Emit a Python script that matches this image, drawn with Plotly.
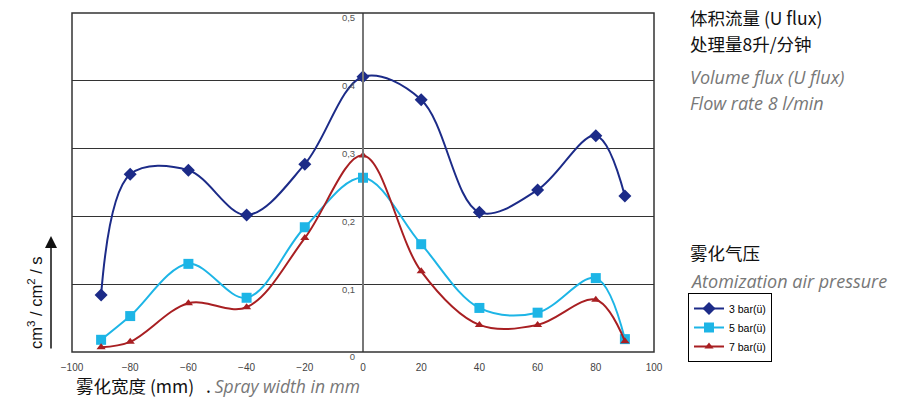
import plotly.graph_objects as go

x_mm = [-90, -80, -60, -40, -20, 0, 20, 40, 60, 80, 90]
bar3 = [0.084, 0.262, 0.268, 0.202, 0.277, 0.406, 0.372, 0.206, 0.239, 0.319, 0.230]
bar5 = [0.018, 0.053, 0.130, 0.080, 0.184, 0.257, 0.159, 0.065, 0.058, 0.109, 0.019]
bar7 = [0.007, 0.015, 0.072, 0.066, 0.168, 0.290, 0.119, 0.040, 0.040, 0.077, 0.016]
series_names = ["3 bar(ü)", "5 bar(ü)", "7 bar(ü)"]
x_ticks = [-100, -80, -60, -40, -20, 0, 20, 40, 60, 80, 100]
y_ticks = [0, 0.1, 0.2, 0.3, 0.4, 0.5]
y_ticklabels = ["0", "0,1", "0,2", "0,3", "0,4", "0,5"]

W, H = 897, 399
L, R, T, B = 72, 654, 13, 352


def px(x):
    return (x - L) / (R - L)


def py(y):
    return (B - y) / (B - T)


fig = go.Figure()
styles = [
    ("#1c2b88", "diamond", 10),
    ("#1db5e6", "square", 10),
    ("#a81f22", "triangle-up", 8),
]
for name, vals, (col, sym, sz) in zip(series_names, [bar3, bar5, bar7], styles):
    fig.add_trace(go.Scatter(
        x=x_mm, y=vals, name=name, mode="lines+markers",
        line=dict(color=col, width=2, shape="spline", smoothing=1.0),
        marker=dict(symbol=sym, size=sz, color=col),
    ))

fig.update_layout(
    width=W, height=H,
    margin=dict(l=L, r=W - R, t=T, b=H - B),
    paper_bgcolor="white", plot_bgcolor="white",
    font=dict(family="Liberation Sans, Arial, sans-serif", color="#444"),
    xaxis=dict(range=[-100, 100], tickvals=x_ticks, showgrid=False, zeroline=False,
               showline=False, ticks="", tickfont=dict(size=10, color="#444"),
               ticklabelstandoff=8),
    yaxis=dict(range=[0, 0.5], tickvals=y_ticks, ticktext=y_ticklabels,
               anchor="free", position=0.5, showline=True, linecolor="#777", linewidth=2,
               showgrid=True, gridcolor="#333", gridwidth=1, zeroline=False,
               ticks="", tickfont=dict(size=9.5, color="#555"), ticklabelshift=5,
               ticklabelstandoff=5),
    showlegend=True,
    legend=dict(x=px(688), y=py(293), xanchor="left", yanchor="top",
                bordercolor="#000", borderwidth=1, bgcolor="white",
                font=dict(size=10.5, color="#000", family="Liberation Sans, Arial"),
                tracegroupgap=0, itemwidth=30),
)

# frame
fig.add_shape(type="rect", xref="paper", yref="paper", x0=0, x1=1, y0=0, y1=1,
              line=dict(color="#333", width=1.5), layer="above")

cjk = "Noto Sans CJK SC"
ann = [
    (688, 17, "体积流量 (U flux)", 17.5, "#111", cjk),
    (688, 43, "处理量8升/分钟", 17.5, "#111", cjk),
    (688, 77, "<i>Volume flux (U flux)</i>", 18, "#777", "Open Sans"),
    (688, 103, "<i>Flow rate 8 l/min</i>", 18, "#777", "Open Sans"),
    (688, 252, "雾化气压", 17.5, "#111", cjk),
    (688, 281, "<i>Atomization air pressure</i>", 18, "#777", "Open Sans"),
]
for xp, yp, txt, sz, col, fam in ann:
    fig.add_annotation(x=px(xp), y=py(yp), xref="paper", yref="paper", text=txt,
                       showarrow=False, xanchor="left", yanchor="middle",
                       font=dict(size=sz, color=col, family=fam))

fig.add_annotation(x=px(74), y=py(385), xref="paper", yref="paper",
                   text="<span style='font-family:Noto Sans CJK SC'>雾化宽度 (mm)</span>"
                        "&nbsp;&nbsp;&nbsp;.&nbsp;<i><span style='color:#777;font-family:Open Sans'>Spray width in mm</span></i>",
                   showarrow=False, xanchor="left", yanchor="middle",
                   font=dict(size=17.5, color="#111", family=cjk))

# y-axis title and arrow
fig.add_annotation(x=px(35), y=py(303), xref="paper", yref="paper",
                   text="cm<sup>3</sup> / cm<sup>2</sup> / s", textangle=-90,
                   showarrow=False, xanchor="center", yanchor="middle",
                   font=dict(size=16.5, color="#111", family="Liberation Sans, Arial"))
fig.add_annotation(x=px(51), y=py(236), xref="paper", yref="paper", text="",
                   showarrow=True, ax=0, ay=114, arrowhead=2, arrowsize=1.6,
                   arrowwidth=1.5, arrowcolor="#111")

fig.write_html("out.html")
